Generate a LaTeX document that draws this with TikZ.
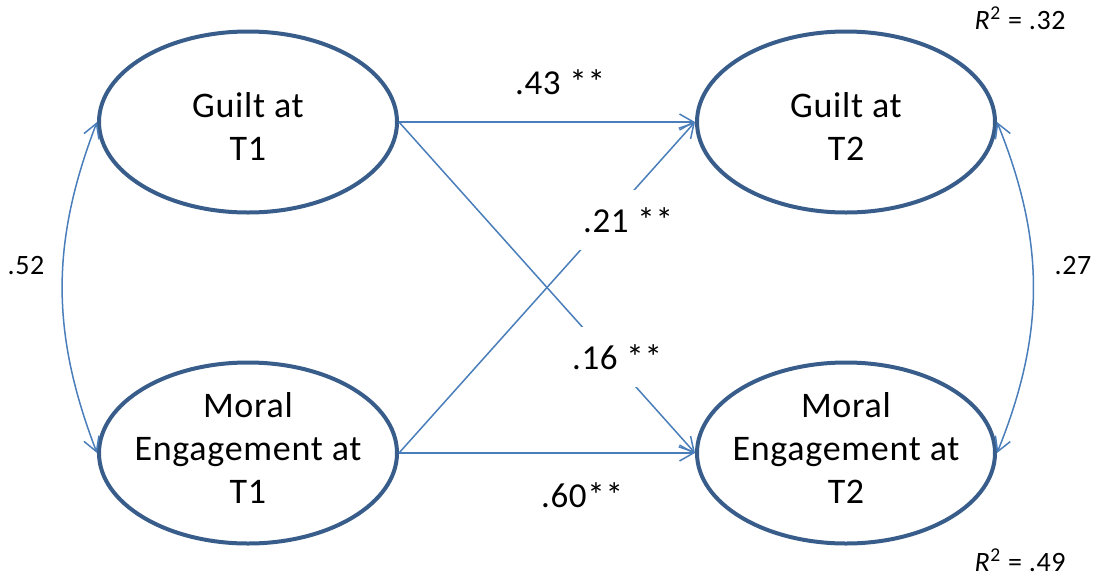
\documentclass[tikz,border=0pt]{standalone}
\usepackage{fontspec}
\setmainfont{Carlito}
\usetikzlibrary{shapes.geometric,arrows.meta}
\definecolor{ovalblue}{HTML}{385D8A}
\definecolor{pathblue}{HTML}{4A7EBB}
\begin{document}
\begin{tikzpicture}[x=0.5pt,y=-0.5pt,
  latent/.style={draw=ovalblue,line width=2pt,ellipse,minimum width=149pt,minimum height=90.5pt,inner sep=0pt},
  vartext/.style={font=\fontsize{18}{21.5}\selectfont\addfontfeatures{LetterSpace=2},align=center},
  coef/.style={font=\fontsize{17.5}{21.5}\selectfont\addfontfeatures{LetterSpace=2},fill=white,inner sep=2pt,minimum height=30pt},
  fitlbl/.style={font=\fontsize{14}{16}\selectfont\addfontfeatures{LetterSpace=2}},
  regpath/.style={draw=pathblue,line width=0.75pt,-{Straight Barb[length=7pt,width=8pt]}},
  cov/.style={draw=pathblue,line width=0.75pt,{Straight Barb[length=7pt,width=8pt]}-{Straight Barb[length=7pt,width=8pt]}}]
\useasboundingbox (0,0) rectangle (1099,579);
% Latent variables
\node[latent] (g1) at (248,122) {};
\node[latent] (g2) at (846,122) {};
\node[latent] (m1) at (248,453) {};
\node[latent] (m2) at (846,453) {};
\node[vartext,yshift=-2pt] (g1t) at (g1) {Guilt at\\T1};
\node[vartext,yshift=-2pt] (g2t) at (g2) {Guilt at\\T2};
\node[vartext,yshift=2.5pt] (m1t) at (m1) {Moral\\Engagement at\\T1};
\node[vartext,yshift=2.5pt] (m2t) at (m2) {Moral\\Engagement at\\T2};
% Regression paths
\draw[regpath] (g1.east) -- (g2.west);
\draw[regpath] (g1.east) -- (m2.west);
\draw[regpath] (m1.east) -- (g2.west);
\draw[regpath] (m1.east) -- (m2.west);
% Coefficients (white boxes cut the crossing lines)
\node[coef] (c43) at (560,82) {.43 **};
\node[coef] (c21) at (628,220) {.21 **};
\node[coef] (c16) at (617,357) {.16 **};
\node[coef] (c60) at (582,495) {.60**};
% Covariances
\draw[cov] (g1.west) to[bend right=21] (m1.west);
\draw[cov] (g2.east) to[bend left=22] (m2.east);
\node[fitlbl] (r52) at (26,266) {.52};
\node[fitlbl] (r27) at (1073,266) {.27};
% Explained variance
\node[fitlbl] (rsq2) at (1020,18) {\textit{R}\textsuperscript{2} = .32};
\node[fitlbl] (rsq4) at (1020,560) {\textit{R}\textsuperscript{2} = .49};
\end{tikzpicture}
\end{document}
